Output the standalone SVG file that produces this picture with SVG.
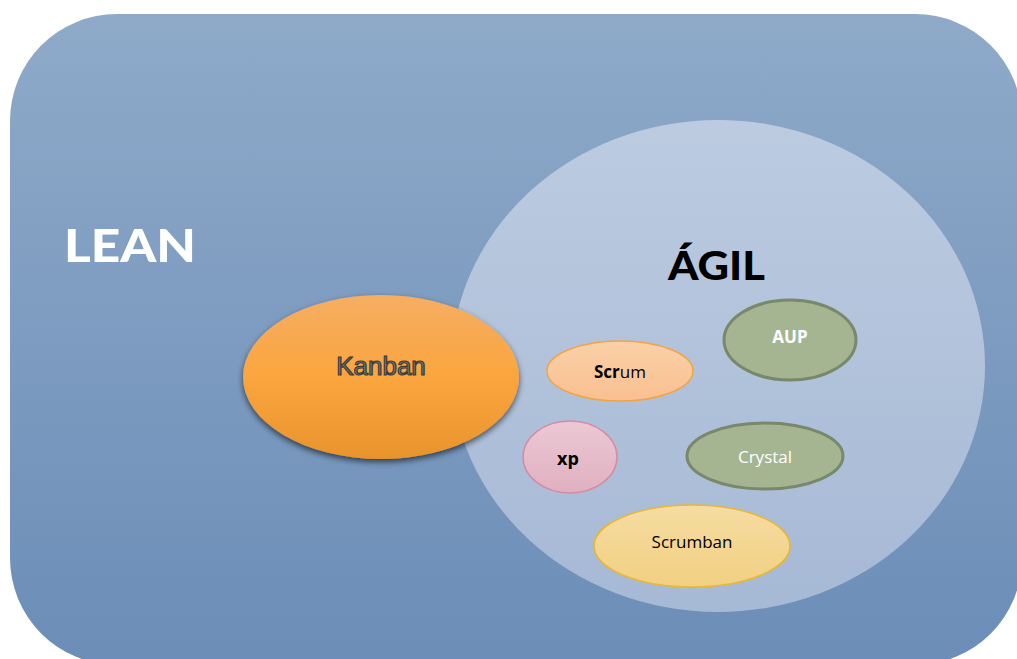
<svg xmlns="http://www.w3.org/2000/svg" width="1017" height="659" viewBox="0 0 1017 659">
<defs>
<linearGradient id="gBg" x1="0" y1="0" x2="0" y2="1">
<stop offset="0" stop-color="#8faac9"/>
<stop offset="1" stop-color="#6b8db7"/>
</linearGradient>
<linearGradient id="gAgil" x1="0" y1="0" x2="0" y2="1">
<stop offset="0" stop-color="#bccbe0"/>
<stop offset="1" stop-color="#a6b9d5"/>
</linearGradient>
<linearGradient id="gKan" x1="0" y1="0" x2="0" y2="1">
<stop offset="0" stop-color="#f5ae62"/>
<stop offset="0.5" stop-color="#fba53e"/>
<stop offset="1" stop-color="#e8942c"/>
</linearGradient>
<linearGradient id="gScrum" x1="0" y1="0" x2="0" y2="1">
<stop offset="0" stop-color="#fbd0a8"/>
<stop offset="1" stop-color="#f9c090"/>
</linearGradient>
<linearGradient id="gScrumban" x1="0" y1="0" x2="0" y2="1">
<stop offset="0" stop-color="#f6dca2"/>
<stop offset="1" stop-color="#f1d082"/>
</linearGradient>
<linearGradient id="gXp" x1="0" y1="0" x2="0" y2="1">
<stop offset="0" stop-color="#ecc8d4"/>
<stop offset="1" stop-color="#e0b0c0"/>
</linearGradient>
<filter id="shadow" x="-20%" y="-20%" width="140%" height="150%">
<feGaussianBlur in="SourceAlpha" stdDeviation="3"/>
<feOffset dx="0" dy="3" result="b"/>
<feComponentTransfer><feFuncA type="linear" slope="0.6"/></feComponentTransfer>
<feMerge><feMergeNode/><feMergeNode in="SourceGraphic"/></feMerge>
</filter>
<style>
.sans{font-family:"Liberation Sans",Arial,sans-serif}
.cal{font-family:"Open Sans","Liberation Sans",sans-serif}
.green{fill:#a5b592;stroke:#78886a;stroke-width:3}
</style>
</defs>
<rect width="1017" height="659" fill="#ffffff"/>
<g id="lean">
<rect x="10" y="14" width="1012" height="651" rx="107" ry="107" fill="url(#gBg)"/>
<text x="64" y="262" font-family="Lato,sans-serif" font-weight="900" font-size="46" fill="#ffffff" textLength="132" lengthAdjust="spacingAndGlyphs">LEAN</text>
</g>
<g id="agil">
<ellipse cx="718" cy="366" rx="267" ry="246" fill="url(#gAgil)"/>
<text x="668" y="280" font-family="Lato,sans-serif" font-weight="900" font-size="40" fill="#000000" textLength="97" lengthAdjust="spacingAndGlyphs">ÁGIL</text>
</g>
<g id="connectors"></g>
<g id="kanban">
<ellipse cx="381" cy="377" rx="138" ry="82" fill="url(#gKan)" filter="url(#shadow)"/>
<text x="381" y="375" class="sans" font-size="26" text-anchor="middle" fill="#7a7a7a" stroke="#3a3a3a" stroke-width="1.2">Kanban</text>
</g>
<g id="scrum">
<ellipse cx="620" cy="371" rx="73" ry="30" fill="url(#gScrum)" stroke="#f2a444" stroke-width="1.5"/>
<text x="620" y="378" class="cal" font-size="17" text-anchor="middle" fill="#000000"><tspan font-weight="bold">Scr</tspan>um</text>
</g>
<g id="aup">
<ellipse cx="790" cy="340" rx="66" ry="40" class="green"/>
<text x="790" y="343" class="cal" font-size="17" font-weight="bold" text-anchor="middle" fill="#ffffff">AUP</text>
</g>
<g id="xp">
<ellipse cx="570" cy="457" rx="47" ry="36" fill="url(#gXp)" stroke="#d48ca4" stroke-width="1.5"/>
<text x="568" y="465" class="cal" font-size="18" font-weight="bold" text-anchor="middle" fill="#000000">xp</text>
</g>
<g id="crystal">
<ellipse cx="765" cy="456" rx="78" ry="33" class="green"/>
<text x="765" y="463" class="cal" font-size="17" text-anchor="middle" fill="#ffffff">Crystal</text>
</g>
<g id="scrumban">
<ellipse cx="692" cy="546" rx="98" ry="41" fill="url(#gScrumban)" stroke="#e8b830" stroke-width="1.5"/>
<text x="692" y="548" class="cal" font-size="17" text-anchor="middle" fill="#000000">Scrumban</text>
</g>
</svg>
